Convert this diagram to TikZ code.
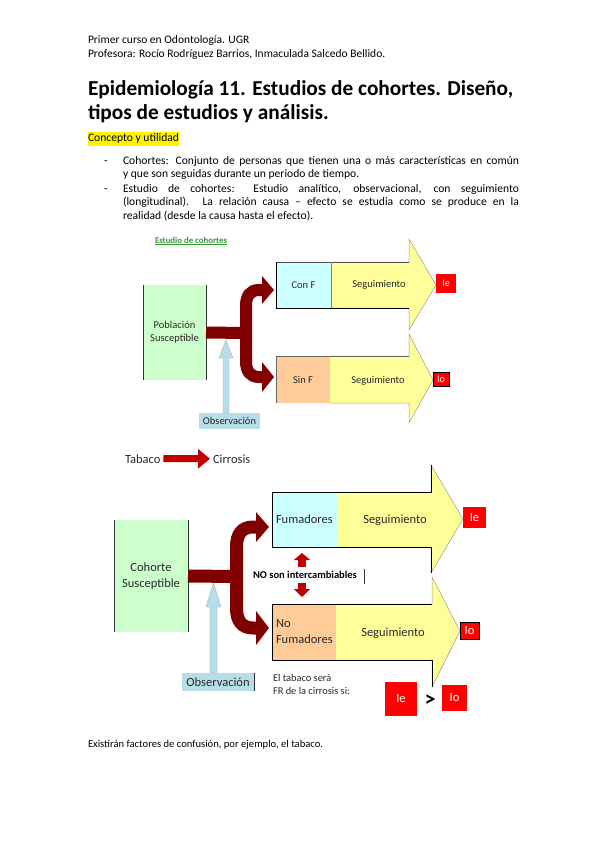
\documentclass[tikz,border=0pt]{standalone}
\usepackage{fontspec}
\setmainfont{Carlito}
\usetikzlibrary{arrows.meta}
\definecolor{maroonA}{RGB}{128,0,0}
\definecolor{obsblue}{RGB}{183,221,232}
\definecolor{lgreen}{RGB}{204,255,204}
\definecolor{lcyan}{RGB}{204,255,255}
\definecolor{peach}{RGB}{255,204,153}
\definecolor{lyellow}{RGB}{255,255,153}
\definecolor{tabred}{RGB}{192,0,0}
\definecolor{titlegreen}{RGB}{51,153,51}
\definecolor{txtgray}{RGB}{40,40,40}
\tikzset{
  every node/.style={inner sep=0pt, outer sep=0pt},
  txt/.style={anchor=base west, font=\fontsize{11.5}{13.5}\selectfont},
  jline/.style={anchor=base west, font=\fontsize{11.6}{13.5}\selectfont},
  fontA/.style={font=\fontsize{10.5}{13}\selectfont, text=txtgray},
  fontB/.style={font=\fontsize{12.5}{16}\selectfont, text=txtgray},
  redbox/.style={fill=red, text=white},
  yarrow/.style={fill=lyellow, draw=black!40, line width=0.5pt},
  brarrow/.style={draw=maroonA, line width=12pt},
  headfill/.style={fill=maroonA},
  obsarrow/.style={fill=obsblue, draw=black!30, line width=0.4pt},
}
\begin{document}
\begin{tikzpicture}[x=1pt,y=-1pt]
\useasboundingbox (0,0) rectangle (599,848);
\fill[white] (0,0) rectangle (599,848);

% header
\node[txt] (h1) at (88,44) {Primer curso en Odontología. UGR};
\node[txt] (h2) at (88,58) {Profesora: Rocío Rodríguez Barrios, Inmaculada Salcedo Bellido.};
\node[anchor=base west, font=\fontsize{21.3}{24}\selectfont\bfseries] (t1) at (88,96) {Epidemiología 11. Estudios de cohortes. Diseño,};
\node[anchor=base west, font=\fontsize{21.3}{24}\selectfont\bfseries] (t2) at (88,120) {tipos de estudios y análisis.};
\node[jline, fill=yellow, inner ysep=2pt] (sec) at (88,142) {Concepto y utilidad};

% bullets
\node[jline] (d1) at (104,164) {-};
\node[jline] (b1a) at (123,164) {\makebox[396pt][s]{Cohortes: Conjunto de personas que tienen una o más características en común}};
\node[jline] (b1b) at (123,177) {y que son seguidas durante un periodo de tiempo.};
\node[jline] (d2) at (104,192) {-};
\node[jline] (b2a) at (123,192) {\makebox[396pt][s]{Estudio de cohortes: Estudio analítico, observacional, con seguimiento}};
\node[jline] (b2b) at (123,205) {\makebox[396pt][s]{(longitudinal). La relación causa – efecto se estudia como se produce en la}};
\node[jline] (b2c) at (123,219) {realidad (desde la causa hasta el efecto).};

% ================= diagram 1 =================
\node[anchor=base west, font=\fontsize{8.8}{10}\selectfont\bfseries, text=titlegreen] (est) at (155,243) {\underline{Estudio de cohortes}};

\node[fill=lgreen, minimum width=63pt, minimum height=95pt, fontA, align=center] (pop) at (174.5,332.5) {Población\\Susceptible};
\draw[black!80, line width=0.6pt] (pop.north west) -- (pop.south west) (pop.north east) -- (pop.south east);

% yellow arrows
\node[fill=lcyan, minimum width=55pt, minimum height=46pt, fontA] (conf) at (303.5,285) {Con F};
\filldraw[yarrow] (conf.north east) -- (409,262) -- (409,239) -- (436,285) -- (409,330) -- (409,308) -- (conf.south east);
\draw[black!70, line width=0.5pt] (conf.north west) -- (409,262);
\draw[black, line width=0.7pt] (conf.north west) -- (conf.south west) -- (409,308);
\draw[black!50, line width=0.4pt] (conf.north east) -- (conf.south east);
\node[fontA] (seg1) at (379,285) {Seguimiento};
\node[redbox, minimum width=20pt, minimum height=19pt, font=\fontsize{10}{12}\selectfont] (ie1) at (446,283.5) {Ie};

\node[fill=peach, minimum width=54pt, minimum height=47pt, fontA] (sinf) at (303,379.5) {Sin F};
\filldraw[yarrow] (sinf.north east) -- (409,356) -- (409,334) -- (433,380) -- (409,423) -- (409,403) -- (sinf.south east);
\draw[black!60, line width=0.6pt] (sinf.south west) -- (sinf.north west) -- (409,356);
\node[fontA] (seg2) at (378,381) {Seguimiento};
\node[redbox, draw=black, line width=0.5pt, minimum width=16pt, minimum height=14pt, font=\fontsize{10}{12}\selectfont] (io1) at (441,379) {Io};

% branching arrow
\coordinate (s1) at (246,333);
\coordinate (u1) at (264,290);
\coordinate (l1) at (264,377);
\draw[brarrow] (pop.east) -- (s1);
\draw[brarrow] (u1) -- (259,290) .. controls (250,290) and (246,296) .. (246,306) -- (246,361) .. controls (246,371) and (250,377) .. (259,377) -- (l1);
\fill[headfill] (262,276) -- (274,290) -- (262,304) -- cycle;
\fill[headfill] (262,362) -- (274,377) -- (262,392) -- cycle;

% observation 1
\node[fill=obsblue, minimum width=61pt, minimum height=16pt, fontA] (obs1) at (229.5,421) {Observación};
\filldraw[obsarrow] (223,413) -- (223,358) -- (219,358) -- (226,340) -- (233,358) -- (229,358) -- (229,413) -- cycle;

% ================= diagram 2 =================
\node[anchor=base west, fontB] (tab) at (125,463) {Tabaco};
\node[anchor=base west, fontB] (cir) at (213,463) {Cirrosis};
\draw[tabred, line width=7pt, -{Triangle[length=12pt,width=19pt]}, shorten <=3pt, shorten >=3pt] (tab.east) -- (cir.west);

\node[fill=lgreen, minimum width=74pt, minimum height=112pt, fontB, align=center] (coh) at (151,576) {Cohorte\\Susceptible};
\draw[black!80, line width=0.6pt] (coh.north west) -- (coh.south west) (coh.north east) -- (coh.south east);

\node[fill=lcyan, minimum width=65pt, minimum height=55pt, text width=57pt, align=left, fontB] (fum) at (304.5,519.5) {Fumadores};
\filldraw[yarrow] (fum.north east) -- (431,492) -- (431,465) -- (463,519) -- (431,573) -- (431,547) -- (fum.south east);
\draw[black, line width=0.7pt] (fum.south west) -- (fum.north west) -- (431,492) -- (431,465) (fum.south west) -- (431,547) -- (431,573);
\node[fontB] (seg3) at (395,520) {Seguimiento};
\node[redbox, minimum width=23pt, minimum height=21pt, fontB, text=white] (ie2) at (474.5,517.5) {Ie};

\node[fill=peach, minimum width=64pt, minimum height=56pt, text width=56pt, align=left, fontB] (nfum) at (304,632) {No\\Fumadores};
\filldraw[yarrow] (nfum.north east) -- (432,604) -- (432,577) -- (460,631) -- (432,687) -- (432,660) -- (nfum.south east);
\draw[black, line width=0.7pt] (nfum.south west) -- (nfum.north west) -- (432,604) (nfum.south west) -- (432,660) -- (432,687);
\node[fontB] (seg4) at (393,633) {Seguimiento};
\node[redbox, draw=black, line width=0.5pt, minimum width=19pt, minimum height=17pt, fontB, text=white] (io2) at (469.5,631) {Io};

% branching arrow 2
\coordinate (s2) at (236.5,576.5);
\coordinate (u2) at (258,527);
\coordinate (l2) at (258,628);
\draw[brarrow, line width=13pt] (coh.east) -- (s2);
\draw[brarrow, line width=13pt] (u2) -- (253,527) .. controls (242,527) and (236.5,534) .. (236.5,547) -- (236.5,608) .. controls (236.5,621) and (242,628) .. (253,628) -- (l2);
\fill[headfill] (256,512) -- (269,527) -- (256,542) -- cycle;
\fill[headfill] (256,611) -- (269,628) -- (256,645) -- cycle;

% observation 2
\node[fill=obsblue, minimum width=72pt, minimum height=18pt, fontB] (obs2) at (218,682) {Observación};
\draw[black!80, line width=0.8pt] (obs2.north east) -- (obs2.south east);
\filldraw[obsarrow] (210,673) -- (210,607) -- (206,607) -- (213.5,583) -- (221,607) -- (217,607) -- (217,673) -- cycle;

% NO son intercambiables
\node[anchor=base west, font=\fontsize{10.5}{12}\selectfont\bfseries] (nosi) at (253,578) {NO son intercambiables};
\draw[black!80, line width=0.6pt] (364,569) -- (364,584);
\coordinate (ua) at (302,567);
\coordinate (ub) at (302,553);
\coordinate (da) at (302,583);
\coordinate (db) at (302,597);
\draw[tabred, line width=8pt, -{Triangle[length=7pt,width=16pt]}] (ua) -- (ub);
\draw[tabred, line width=8pt, -{Triangle[length=8pt,width=16pt]}] (da) -- (db);

% conclusion
\node[anchor=base west, font=\fontsize{10.4}{13}\selectfont, align=left, text=txtgray] (fr) at (273,694) {El tabaco será\\FR de la cirrosis si:};
\node[redbox, minimum width=32pt, minimum height=34pt, fontB, text=white] (ie3) at (401,699) {Ie};
\node[font=\fontsize{22}{24}\selectfont\bfseries] (gt) at (430,701) {>};
\node[redbox, minimum width=25pt, minimum height=26pt, fontB, text=white] (io3) at (454.5,698) {Io};

% final text
\node[anchor=base west, font=\fontsize{10.6}{13}\selectfont] (fin) at (88,747) {Existirán factores de confusión, por ejemplo, el tabaco.};
\end{tikzpicture}
\end{document}
